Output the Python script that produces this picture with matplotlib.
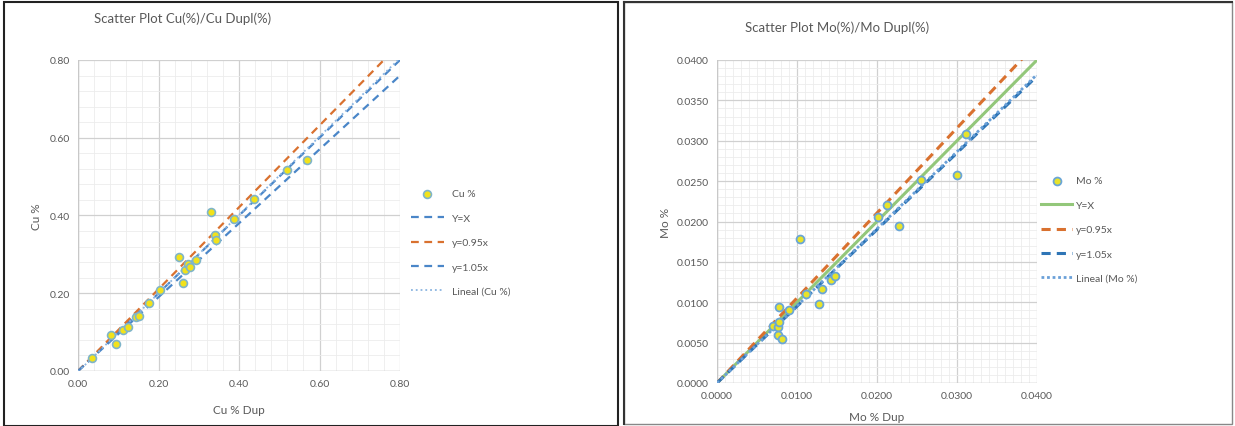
import numpy as np
import matplotlib.pyplot as plt
from matplotlib.patches import Rectangle
from matplotlib.ticker import MultipleLocator, FormatStrFormatter

plt.rcParams['font.family'] = ['Lato', 'DejaVu Sans']

# Cu duplicates (x = Cu % Dup, y = Cu %)
cu_dup = [0.035, 0.083, 0.094, 0.112, 0.123, 0.143, 0.152, 0.177, 0.203, 0.250, 0.262,
          0.265, 0.273, 0.278, 0.294, 0.331, 0.341, 0.343, 0.388, 0.438, 0.519, 0.569]
cu_org = [0.034, 0.093, 0.070, 0.105, 0.114, 0.139, 0.142, 0.176, 0.208, 0.293, 0.226,
          0.260, 0.274, 0.268, 0.286, 0.410, 0.349, 0.338, 0.390, 0.443, 0.516, 0.544]

# Mo duplicates (x = Mo % Dup, y = Mo %)
mo_dup = [0.0104, 0.0078, 0.0090, 0.0070, 0.0076, 0.0078, 0.0076, 0.0081, 0.0111, 0.0128,
          0.0131, 0.0143, 0.0148, 0.0201, 0.0213, 0.0228, 0.0255, 0.0300, 0.0311]
mo_org = [0.0178, 0.0094, 0.0090, 0.0070, 0.0069, 0.0076, 0.0059, 0.0055, 0.0110, 0.0098,
          0.0117, 0.0128, 0.0132, 0.0205, 0.0220, 0.0194, 0.0251, 0.0257, 0.0308]

cu_lim = [0, 0.80]
mo_lim = [0, 0.040]

blue = '#4a86c8'
orange = '#d9712f'
green = '#93c77a'
txt = '#595959'

fig = plt.figure(figsize=(12.35, 4.27), dpi=100)

# panel frames
fig.patches.append(Rectangle((4 / 1235, 0.0), 614 / 1235, 424 / 427, transform=fig.transFigure,
                             fill=False, ec='#222222', lw=1.5))
fig.patches.append(Rectangle((624 / 1235, 2 / 427), 608 / 1235, 422 / 427, transform=fig.transFigure,
                             fill=False, ec='#888888', lw=1.0))
fig.lines.append(plt.Line2D([624 / 1235, 1232 / 1235], [424 / 427, 424 / 427],
                            transform=fig.transFigure, color='#333333', lw=1.5))
fig.lines.append(plt.Line2D([624 / 1235, 624 / 1235], [2 / 427, 424 / 427],
                            transform=fig.transFigure, color='#333333', lw=1.5))


def style(ax, lim, major, minor, fmt):
    ax.set_xlim(lim)
    ax.set_ylim(lim)
    ax.xaxis.set_major_locator(MultipleLocator(major[0]))
    ax.yaxis.set_major_locator(MultipleLocator(major[1]))
    ax.xaxis.set_minor_locator(MultipleLocator(minor))
    ax.yaxis.set_minor_locator(MultipleLocator(minor))
    ax.xaxis.set_major_formatter(FormatStrFormatter(fmt))
    ax.yaxis.set_major_formatter(FormatStrFormatter(fmt))
    ax.grid(which='major', color='#d0d0d0', lw=0.9)
    ax.grid(which='minor', color='#ececec', lw=0.6)
    ax.set_axisbelow(True)
    for s in ax.spines.values():
        s.set_visible(False)
    ax.axhline(lim[0], color='#c8c8c8', lw=1)
    ax.axvline(lim[0], color='#c8c8c8', lw=1)
    ax.tick_params(which='both', length=0, colors=txt, labelsize=7.5, pad=6)


# ---- Cu panel ----
ax1 = fig.add_axes([78 / 1235, 1 - 372 / 427, 322 / 1235, 311 / 427])
style(ax1, cu_lim, (0.2, 0.2), 0.04, '%.2f')
xl = np.array(cu_lim)
ax1.scatter(cu_dup, cu_org, s=32, c='#f2e21a', edgecolors='#7fb5c9', linewidths=1.2,
            zorder=4, label='Cu %')
ax1.plot(xl, xl, ls=(0, (3.5, 2.5)), color=blue, lw=1.6, label='Y=X')
ax1.plot(xl, xl / 0.95, ls=(0, (3.5, 2.5)), color=orange, lw=1.6, label='y=0.95x')
ax1.plot(xl, xl * 0.95, ls=(0, (3.5, 2.5)), color=blue, lw=1.6, label='y=1.05x')
k1, b1 = np.polyfit(cu_dup, cu_org, 1)
ax1.plot(xl, k1 * xl + b1, ls=':', color='#8ab4e0', lw=1.3, label='Lineal (Cu %)')
ax1.set_xlabel('Cu % Dup', color=txt, fontsize=8.5, labelpad=11)
ax1.set_ylabel('Cu %', color=txt, fontsize=8.5, labelpad=5)
fig.text(94 / 1235, 1 - 19 / 427, 'Scatter Plot Cu(%)/Cu Dupl(%)', color=txt, fontsize=9.5,
         va='center')
ax1.legend(loc='center left', bbox_to_anchor=(1.02, 0.413), frameon=False, fontsize=7.5,
           labelcolor=txt, handlelength=3.2, labelspacing=1.45, borderaxespad=0)

# ---- Mo panel ----
ax2 = fig.add_axes([717 / 1235, 1 - 384 / 427, 320 / 1235, 323 / 427])
style(ax2, mo_lim, (0.01, 0.005), 0.001, '%.4f')
xm = np.array(mo_lim)
ax2.scatter(mo_dup, mo_org, s=32, c='#e8e32a', edgecolors='#6aa6d6', linewidths=1.3,
            zorder=4, label='Mo %')
ax2.plot(xm, xm, ls='-', color=green, lw=2.2, label='Y=X')
ax2.plot(xm, xm / 0.95, ls=(0, (3, 2)), color=orange, lw=2.2, label='y=0.95x')
ax2.plot(xm, xm * 0.95, ls=(0, (3, 2)), color='#2e75b6', lw=2.2, label='y=1.05x')
ax2.plot(xm, 0.955 * xm, ls=(0, (1, 1)), color='#6aa0d8', lw=2.0, label='Lineal (Mo %)')
ax2.set_xlabel('Mo % Dup', color=txt, fontsize=8.5, labelpad=8)
ax2.set_ylabel('Mo %', color=txt, fontsize=8.5, labelpad=4)
fig.text(745 / 1235, 1 - 28 / 427, 'Scatter Plot Mo(%)/Mo Dupl(%)', color=txt, fontsize=9.5,
         va='center')
ax2.legend(loc='center left', bbox_to_anchor=(1.0, 0.475), frameon=False, fontsize=7.5,
           labelcolor=txt, handlelength=3.0, handletextpad=0.3, labelspacing=1.45,
           borderaxespad=0)

fig.savefig('out.png', dpi=100)
